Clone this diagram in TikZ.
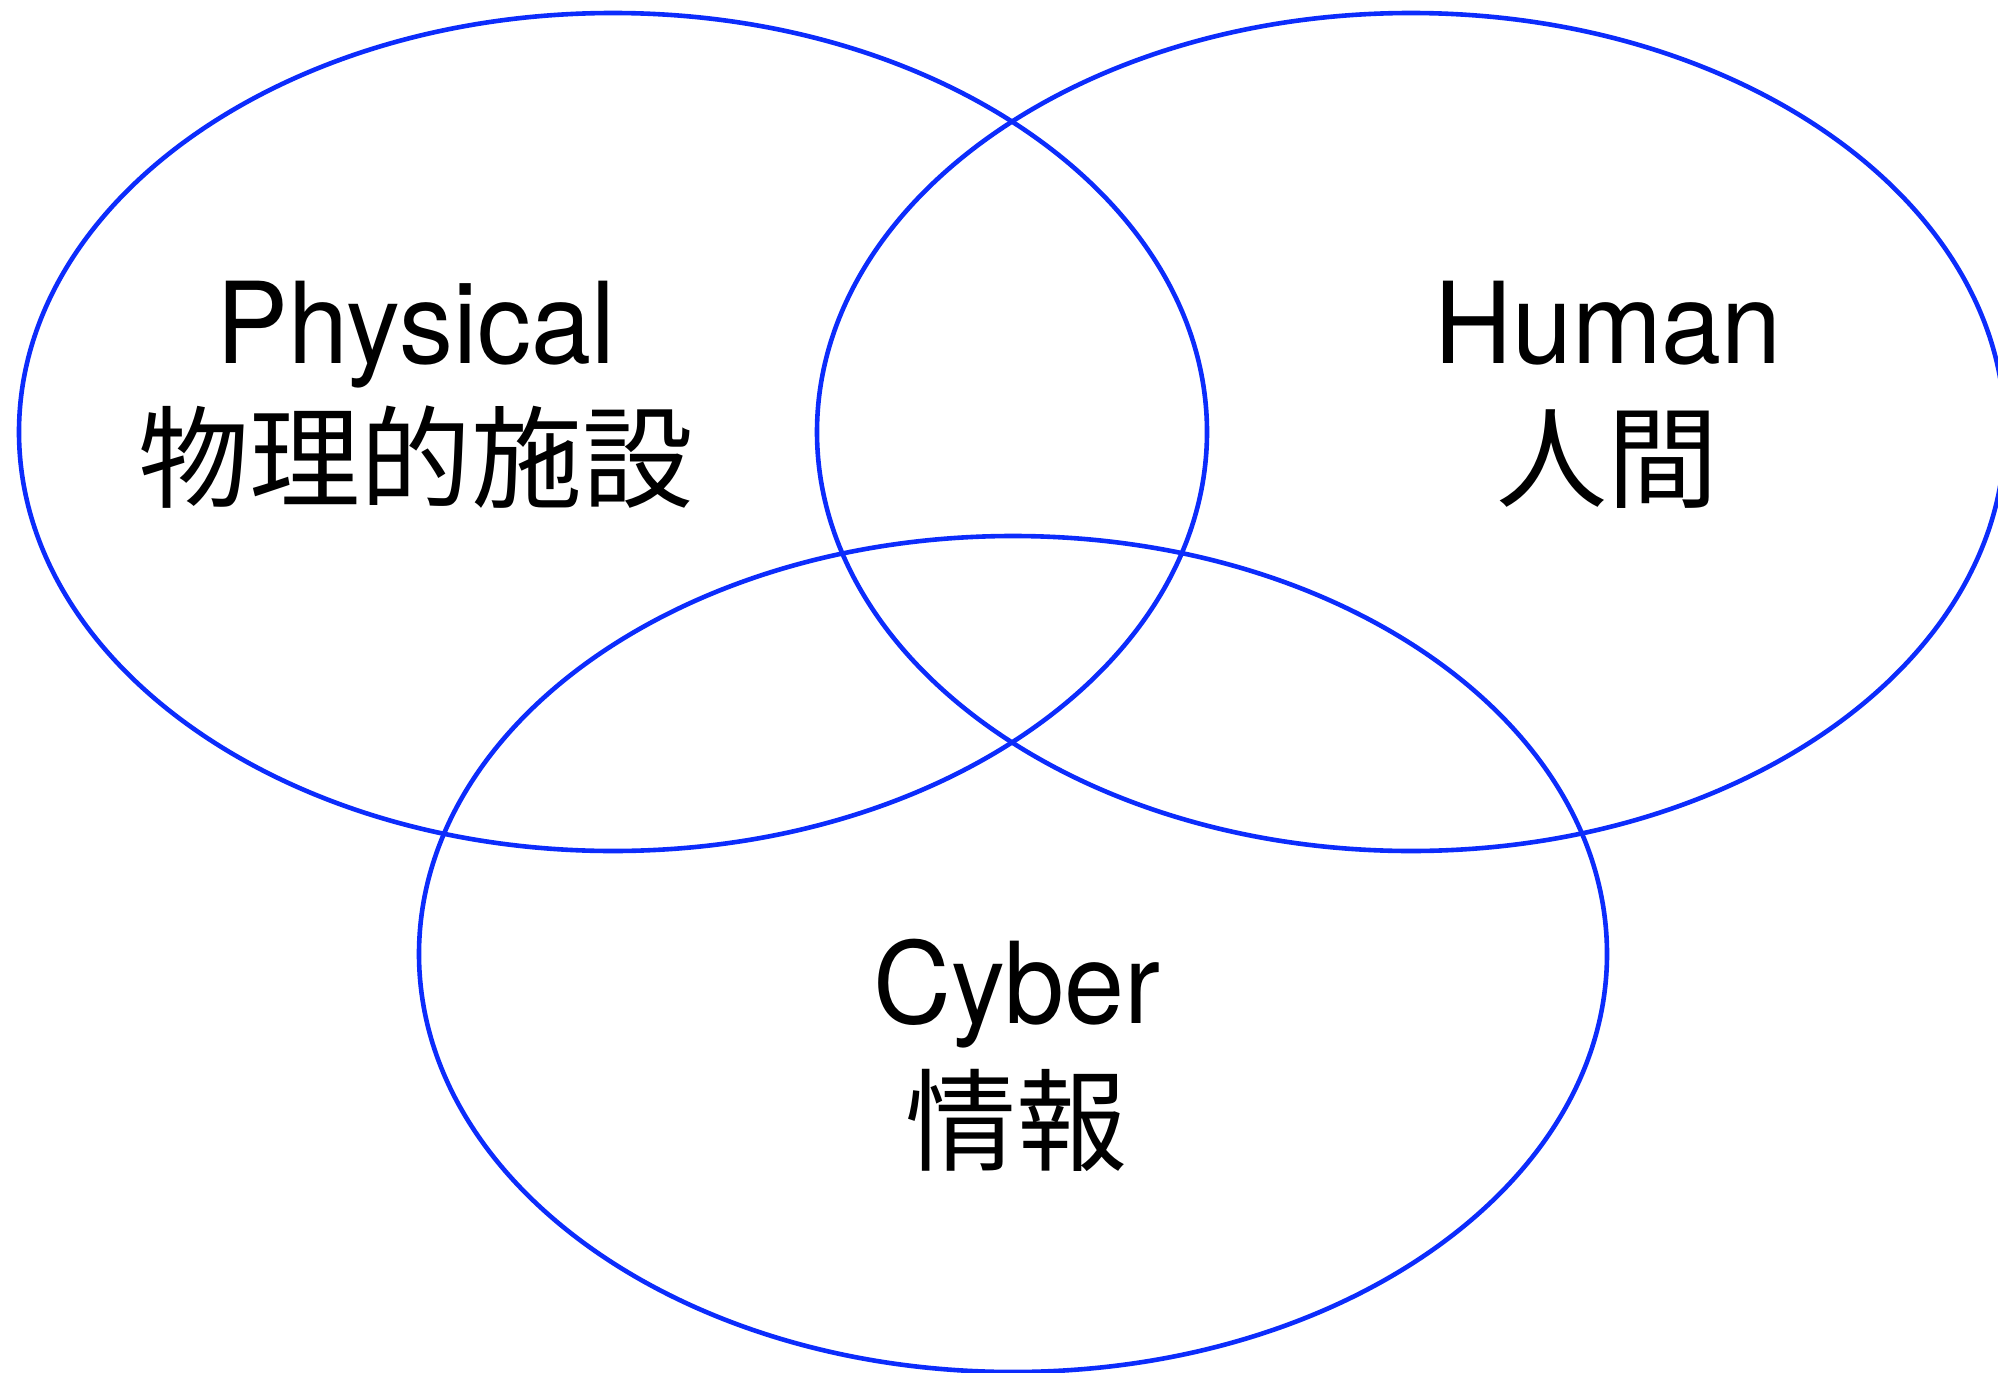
\documentclass[tikz,border=0pt]{standalone}
\usepackage{fontspec}
\usepackage{graphicx}
\setmainfont{TeX Gyre Heros}
\newfontfamily\cjkfont{Noto Sans CJK JP}
\newcommand{\narrowtext}[1]{\scalebox{0.955}[1]{#1}}
\definecolor{vennblue}{RGB}{12,44,252}
\begin{document}
\begin{tikzpicture}[x=1pt,y=-1pt,
  venn/.style={draw=vennblue,line width=4.6pt},
  latin/.style={anchor=base,inner sep=0pt,font=\fontsize{113}{120}\selectfont},
  cjk/.style={anchor=base,inner sep=0pt,font=\cjkfont\fontsize{111}{120}\selectfont}]
\useasboundingbox (0,0) rectangle (1998,1373);
\fill[white] (0,0) rectangle (1998,1373);
\draw[venn] (613,432) ellipse [x radius=594, y radius=419];
\draw[venn] (1411,432) ellipse [x radius=594, y radius=419];
\draw[venn] (1013,954) ellipse [x radius=594, y radius=418];
\node[latin] (phys) at (416,363) {\narrowtext{Physical}};
\node[cjk] (physj) at (416,499) {物理的施設};
\node[latin] (hum) at (1608,363) {\narrowtext{Human}};
\node[cjk] (humj) at (1607,499) {人間};
\node[latin] (cyb) at (1017,1023) {\narrowtext{Cyber}};
\node[cjk] (cybj) at (1016,1162) {情報};
\end{tikzpicture}
\end{document}
